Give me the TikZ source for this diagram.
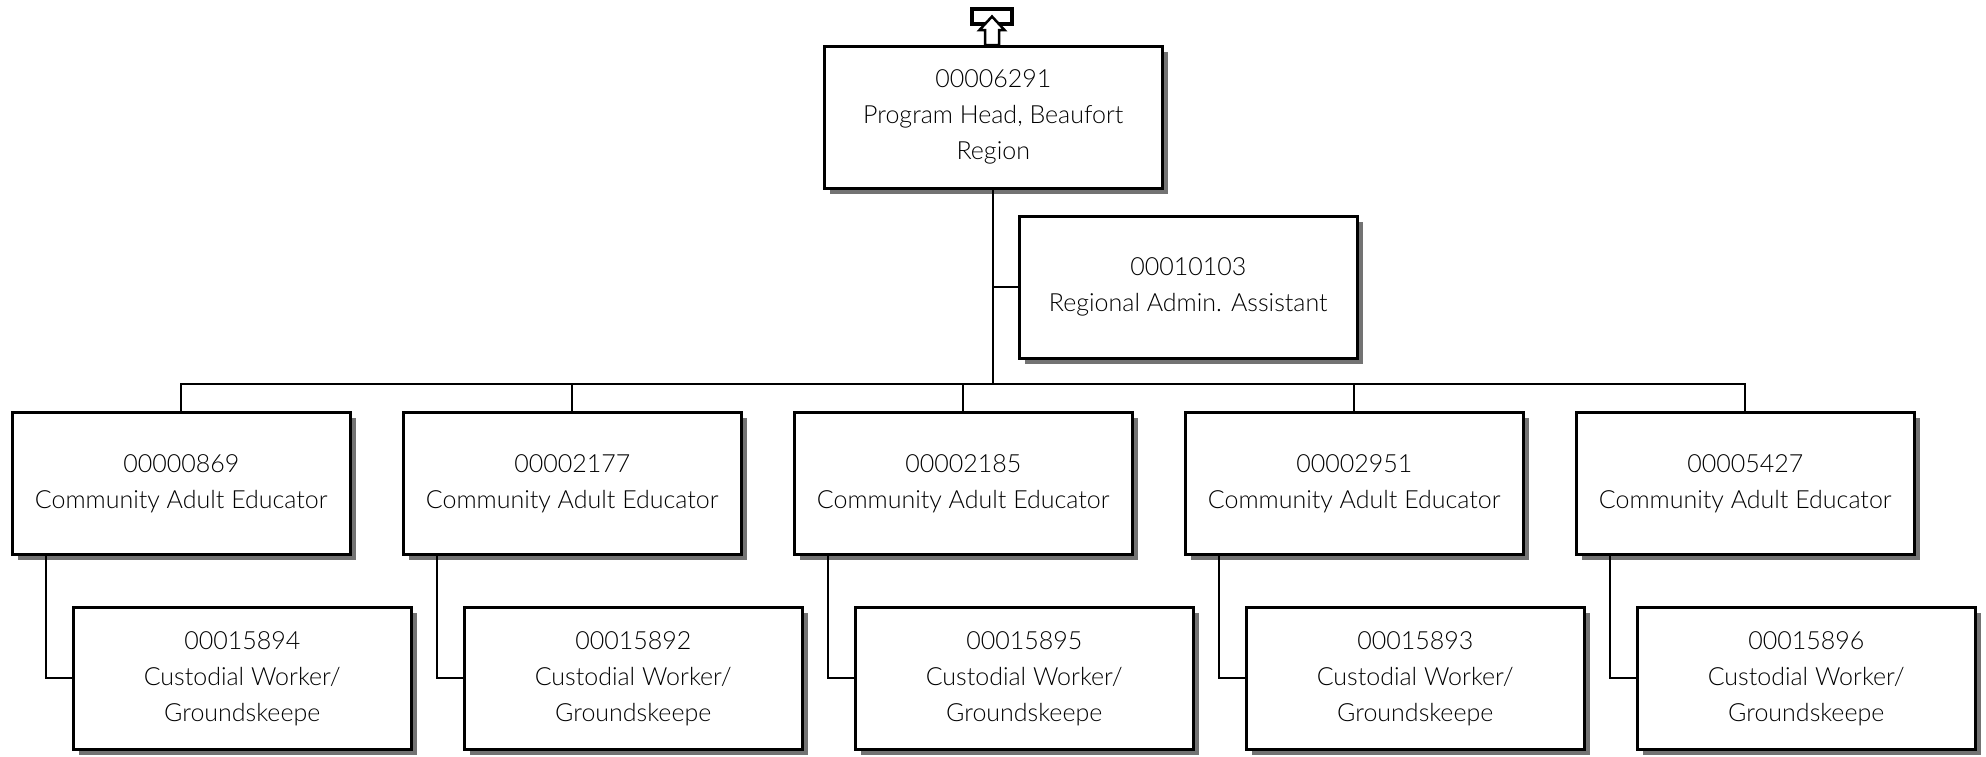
\documentclass[tikz,border=0pt]{standalone}
\usepackage{fontspec}
\setmainfont{Lato}[UprightFont=* Light]
\usetikzlibrary{shadows}
\tikzset{
  box/.style={draw, line width=2.5pt, fill=white, minimum width=338pt, minimum height=142pt,
    align=center, inner sep=0pt, anchor=north west, text=black,
    font=\fontsize{25}{36}\selectfont,
    drop shadow={shadow xshift=6pt, shadow yshift=-6pt, fill=black!55, opacity=1}},
  conn/.style={line width=2pt}
}
\begin{document}
\begin{tikzpicture}[x=1pt,y=-1pt]
\useasboundingbox (0,0) rectangle (1986,756);
% nodes
\node[box] (top) at (823,45) {00006291\\Program Head, Beaufort\\Region};
\node[box] (adm) at (1018,215) {00010103\\Regional Admin. Assistant};
\node[box] (e1) at (11,411) {00000869\\Community Adult Educator};
\node[box] (e2) at (402,411) {00002177\\Community Adult Educator};
\node[box] (e3) at (793,411) {00002185\\Community Adult Educator};
\node[box] (e4) at (1184,411) {00002951\\Community Adult Educator};
\node[box] (e5) at (1575,411) {00005427\\Community Adult Educator};
\node[box] (c1) at (72,606) {00015894\\Custodial Worker/\\Groundskeepe};
\node[box] (c2) at (463,606) {00015892\\Custodial Worker/\\Groundskeepe};
\node[box] (c3) at (854,606) {00015895\\Custodial Worker/\\Groundskeepe};
\node[box] (c4) at (1245,606) {00015893\\Custodial Worker/\\Groundskeepe};
\node[box] (c5) at (1636,606) {00015896\\Custodial Worker/\\Groundskeepe};
% connectors
\coordinate (bar) at (0,384);
\draw[conn] (top.south) -- (top.south |- bar);
\draw[conn] (adm.west) -- (adm.west -| top.south);
\draw[conn] (e1.north) -- (e1.north |- bar) -- (e5.north |- bar) -- (e5.north);
\foreach \i in {2,3,4}{\draw[conn] (e\i.north) -- (e\i.north |- bar);}
\foreach \i in {1,...,5}{
  \coordinate (k\i) at ([xshift=35pt]e\i.south west);
  \draw[conn] (k\i) |- (c\i.west);
}
% up-arrow marker
\draw[line width=3.5pt] (972,9) rectangle (1012,24);
\draw[line width=2.5pt, fill=white, line join=miter] (985,45) -- (985,30) -- (979.5,30) -- (992,16.5) -- (1004.5,30) -- (999,30) -- (999,45) -- cycle;
\end{tikzpicture}
\end{document}
